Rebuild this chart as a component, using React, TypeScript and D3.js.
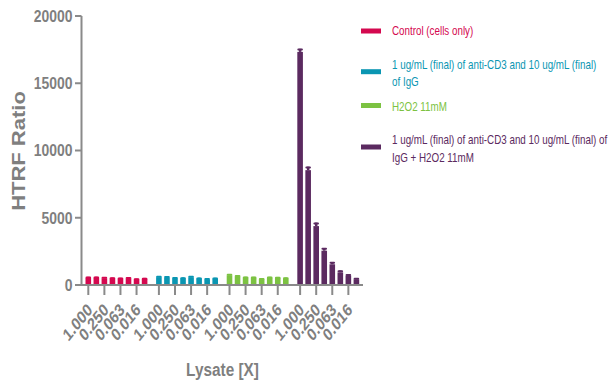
import React from "react";
import * as d3 from "d3";

const seriesNames = [
  "Control (cells only)",
  "1 ug/mL (final) of anti-CD3 and 10 ug/mL (final) of IgG",
  "H2O2 11mM",
  "1 ug/mL (final) of anti-CD3 and 10 ug/mL (final) of IgG + H2O2 11mM",
];
const legendLines = [
  ["Control (cells only)"],
  ["1 ug/mL (final) of anti-CD3 and 10 ug/mL (final)", "of IgG"],
  ["H2O2 11mM"],
  ["1 ug/mL (final) of anti-CD3 and 10 ug/mL (final) of", "IgG + H2O2 11mM"],
];
const concentrations = ["1.000", "0.500", "0.250", "0.125", "0.063", "0.031", "0.016", "0.008"];
const labeledConcentrations = ["1.000", "0.250", "0.063", "0.016"];
const controlValues = [520, 530, 500, 480, 460, 490, 400, 450];
const antiCD3Values = [580, 560, 500, 490, 570, 470, 420, 460];
const h2o2Values = [720, 640, 540, 530, 430, 530, 520, 480];
const comboValues = [17330, 8540, 4380, 2550, 1540, 940, 690, 420];
const controlErr = [90, 90, 90, 80, 80, 90, 80, 80];
const antiCD3Err = [90, 90, 80, 80, 100, 80, 80, 80];
const h2o2Err = [100, 90, 80, 80, 80, 80, 80, 80];
const comboErr = [230, 260, 260, 200, 170, 150, 120, 100];
const colors = ["#d4084f", "#0a96b2", "#7cc242", "#5b2a60"];
const yTicks = [0, 5000, 10000, 15000, 20000];

const allValues = [controlValues, antiCD3Values, h2o2Values, comboValues];
const allErr = [controlErr, antiCD3Err, h2o2Err, comboErr];

const GROUP_STEP = 8.78;
const FONT = "'Liberation Sans', Arial, sans-serif";
const AXIS = "#8a8a8a";
const TEXT = "#7f7f7f";

export default function App() {
  const y = d3.scaleLinear().domain([0, 20000]).range([285, 16]);
  const x = d3
    .scaleLinear()
    .domain([0, 3 * GROUP_STEP + concentrations.length - 1])
    .range([88.3, 356.4]);
  const pos = (g: number, i: number) => x(g * GROUP_STEP + i);
  const barW = 5.6;

  return (
    <div style={{ position: "absolute", left: 0, top: 0 }}>
      <svg width={611} height={388} style={{ display: "block", fontFamily: FONT }}>
        <rect width={611} height={388} fill="#fff" />
        {/* bars */}
        {allValues.map((vals, g) =>
          vals.map((v, i) => {
            const cx = pos(g, i);
            const e = allErr[g][i];
            return (
              <g key={`b${g}-${i}`}>
                <rect x={cx - barW / 2} y={y(v)} width={barW} height={y(0) - y(v)} fill={colors[g]} />
                <line x1={cx} x2={cx} y1={y(v)} y2={y(v + e)} stroke={colors[g]} strokeWidth={2.5} />
                <line x1={cx - 1.8} x2={cx + 1.8} y1={y(v + e) + 0.8} y2={y(v + e) + 0.8} stroke={colors[g]} strokeWidth={2} strokeLinecap="round" />
              </g>
            );
          })
        )}
        {/* y axis */}
        <line x1={81.5} x2={81.5} y1={y(20000)} y2={y(0)} stroke={AXIS} strokeWidth={2} />
        {yTicks.map((t) => (
          <g key={`yt${t}`}>
            <line x1={75} x2={81.5} y1={y(t)} y2={y(t)} stroke={AXIS} strokeWidth={2} />
            <text
              transform={`translate(72.5,${y(t)}) scale(0.87,1)`}
              textAnchor="end"
              dy="0.36em"
              fontSize={16}
              fontWeight="bold"
              fill={TEXT}
            >
              {t}
            </text>
          </g>
        ))}
        {/* x axis */}
        <line x1={75} x2={363} y1={y(0)} y2={y(0)} stroke={AXIS} strokeWidth={2} />
        {allValues.map((_, g) =>
          concentrations.map((c, i) =>
            labeledConcentrations.includes(c) ? (
              <g key={`xt${g}-${i}`}>
                <line x1={pos(g, i)} x2={pos(g, i)} y1={y(0)} y2={y(0) + 10} stroke={AXIS} strokeWidth={2} />
                <text
                  transform={`translate(${pos(g, i) + 5},${y(0) + 26}) scale(0.8,1) rotate(-45)`}
                  textAnchor="end"
                  fontSize={17.5}
                  fontWeight="bold"
                  fill={TEXT}
                >
                  {c}
                </text>
              </g>
            ) : null
          )
        )}
        {/* axis titles */}
        <text
          transform="translate(222.5,375.5) scale(0.83,1)"
          textAnchor="middle"
          fontSize={18.5}
          fontWeight="bold"
          fill={TEXT}
        >
          Lysate [X]
        </text>
        <text
          transform="translate(25,151) scale(0.84,1) rotate(-90)"
          textAnchor="middle"
          fontSize={22}
          fontWeight="bold"
          fill={TEXT}
        >
          HTRF Ratio
        </text>
        {/* legend */}
        {seriesNames.map((name, k) => {
          const swY = [31, 71.7, 105.5, 147][k];
          const lineYs = [[31], [64.3, 81.7], [106.7], [140, 157.7]][k];
          return (
            <g key={`lg${k}`} aria-label={name}>
              <rect x={361} y={swY - 2.5} width={20} height={5} fill={colors[k]} />
              {legendLines[k].map((ln, j) => (
                <text
                  key={j}
                  transform={`translate(392,${lineYs[j]}) scale(0.78,1)`}
                  dy="0.35em"
                  fontSize={12.6}
                  fill={colors[k]}
                >
                  {ln}
                </text>
              ))}
            </g>
          );
        })}
      </svg>
    </div>
  );
}
